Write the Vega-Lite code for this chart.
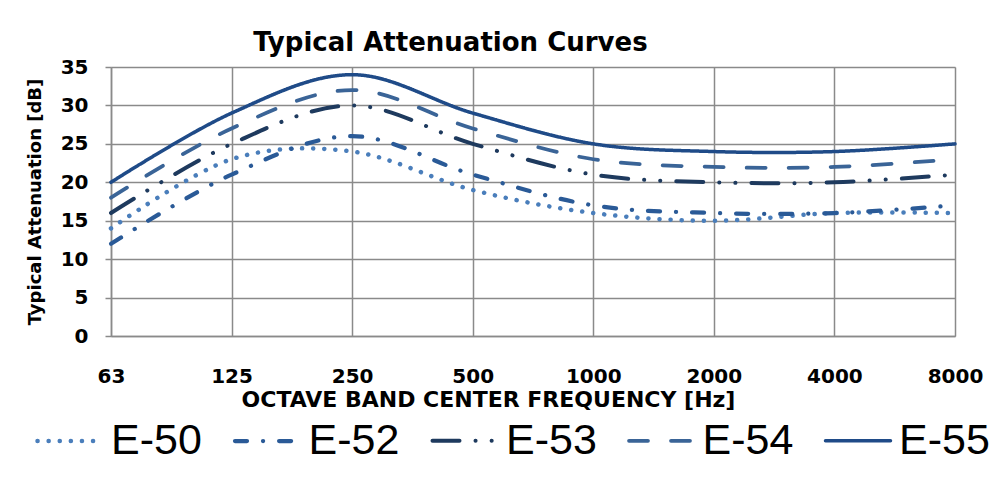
{
  "$schema": "https://vega.github.io/schema/vega-lite/v6.json",
  "width": 844,
  "height": 269,
  "autosize": "none",
  "padding": {"left": 111, "top": 67, "right": 48, "bottom": 142},
  "background": "white",
  "title": {
    "text": "Typical Attenuation Curves",
    "anchor": "start",
    "dx": 227,
    "font": "DejaVu Sans",
    "fontSize": 26,
    "fontWeight": "bold",
    "color": "black",
    "offset": 1
  },
  "data": {
    "values": [
      {"freq": "63", "series": "E-50", "value": 14},
      {"freq": "125", "series": "E-50", "value": 23},
      {"freq": "250", "series": "E-50", "value": 24},
      {"freq": "500", "series": "E-50", "value": 19},
      {"freq": "1000", "series": "E-50", "value": 16},
      {"freq": "2000", "series": "E-50", "value": 15},
      {"freq": "4000", "series": "E-50", "value": 16},
      {"freq": "8000", "series": "E-50", "value": 16},
      {"freq": "63", "series": "E-52", "value": 12},
      {"freq": "125", "series": "E-52", "value": 21},
      {"freq": "250", "series": "E-52", "value": 26},
      {"freq": "500", "series": "E-52", "value": 21},
      {"freq": "1000", "series": "E-52", "value": 17},
      {"freq": "2000", "series": "E-52", "value": 16},
      {"freq": "4000", "series": "E-52", "value": 16},
      {"freq": "8000", "series": "E-52", "value": 17},
      {"freq": "63", "series": "E-53", "value": 16},
      {"freq": "125", "series": "E-53", "value": 25},
      {"freq": "250", "series": "E-53", "value": 30},
      {"freq": "500", "series": "E-53", "value": 25},
      {"freq": "1000", "series": "E-53", "value": 21},
      {"freq": "2000", "series": "E-53", "value": 20},
      {"freq": "4000", "series": "E-53", "value": 20},
      {"freq": "8000", "series": "E-53", "value": 21},
      {"freq": "63", "series": "E-54", "value": 18},
      {"freq": "125", "series": "E-54", "value": 27},
      {"freq": "250", "series": "E-54", "value": 32},
      {"freq": "500", "series": "E-54", "value": 27},
      {"freq": "1000", "series": "E-54", "value": 23},
      {"freq": "2000", "series": "E-54", "value": 22},
      {"freq": "4000", "series": "E-54", "value": 22},
      {"freq": "8000", "series": "E-54", "value": 23},
      {"freq": "63", "series": "E-55", "value": 20},
      {"freq": "125", "series": "E-55", "value": 29},
      {"freq": "250", "series": "E-55", "value": 34},
      {"freq": "500", "series": "E-55", "value": 29},
      {"freq": "1000", "series": "E-55", "value": 25},
      {"freq": "2000", "series": "E-55", "value": 24},
      {"freq": "4000", "series": "E-55", "value": 24},
      {"freq": "8000", "series": "E-55", "value": 25}
    ]
  },
  "mark": {"type": "line", "interpolate": "cardinal", "strokeCap": "round", "strokeJoin": "round"},
  "encoding": {
    "x": {
      "field": "freq",
      "type": "ordinal",
      "sort": ["63", "125", "250", "500", "1000", "2000", "4000", "8000"],
      "scale": {"type": "point", "padding": 0},
      "axis": {
        "title": "OCTAVE BAND CENTER FREQUENCY [Hz]",
        "labelAngle": 0,
        "ticks": false,
        "labelPadding": 30,
        "labelFont": "DejaVu Sans",
        "labelFontSize": 20,
        "labelFontWeight": "bold",
        "labelColor": "black",
        "titleFont": "DejaVu Sans",
        "titleFontSize": 22,
        "titleFontWeight": "bold",
        "titleColor": "black",
        "titlePadding": 3,
        "titleX": 377,
        "grid": true,
        "gridColor": "#8a8a8a",
        "gridWidth": 1.5,
        "domainColor": "#8a8a8a",
        "domainWidth": 1.5
      }
    },
    "y": {
      "field": "value",
      "type": "quantitative",
      "scale": {"domain": [0, 35]},
      "axis": {
        "title": "Typical Attenuation [dB]",
        "values": [0, 5, 10, 15, 20, 25, 30, 35],
        "tickSize": 6,
        "tickColor": "#8a8a8a",
        "tickWidth": 1.5,
        "labelPadding": 17,
        "labelFont": "DejaVu Sans",
        "labelFontSize": 20,
        "labelFontWeight": "bold",
        "labelColor": "black",
        "titleFont": "DejaVu Sans",
        "titleFontSize": 18,
        "titleFontWeight": "bold",
        "titleColor": "black",
        "titlePadding": 16,
        "grid": true,
        "gridColor": "#8a8a8a",
        "gridWidth": 1.5,
        "domainColor": "#8a8a8a",
        "domainWidth": 1.5
      }
    },
    "color": {
      "field": "series",
      "type": "nominal",
      "scale": {
        "domain": ["E-50", "E-52", "E-53", "E-54", "E-55"],
        "range": ["#4A7EBB", "#2A5A97", "#1E3A5E", "#3A6497", "#1F4B88"]
      },
      "legend": {
        "orient": "none",
        "legendX": -76,
        "legendY": 339,
        "direction": "horizontal",
        "columns": 5,
        "title": null,
        "symbolType": "stroke",
        "symbolSize": 4225,
        "labelFont": "Liberation Sans",
        "labelFontSize": 43,
        "labelColor": "black",
        "labelOffset": 6,
        "labelLimit": 300,
        "columnPadding": 24.5,
        "padding": 0,
        "encode": {"symbols": {"update": {"strokeCap": {"value": "round"}}}}
      }
    },
    "strokeDash": {
      "field": "series",
      "type": "nominal",
      "scale": {
        "domain": ["E-50", "E-52", "E-53", "E-54", "E-55"],
        "range": [[0.1, 11], [12, 16, 0.1, 16], [27, 16, 0.1, 16, 0.1, 16], [19, 23], [1, 0]]
      }
    },
    "strokeWidth": {
      "field": "series",
      "type": "nominal",
      "scale": {
        "domain": ["E-50", "E-52", "E-53", "E-54", "E-55"],
        "range": [4.5, 3.5, 3.5, 5, 3.5]
      }
    }
  }
}
